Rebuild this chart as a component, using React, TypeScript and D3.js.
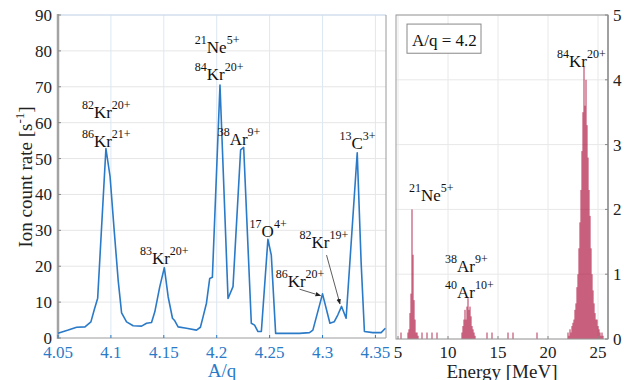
import React from "react";
import { scaleLinear, line, range } from "d3";

// A/q scan (left panel)
const aqValues = [
  4.05, 4.0597, 4.0676, 4.0755, 4.0811, 4.0842, 4.0875, 4.0953, 4.0992, 4.1031,
  4.1069, 4.1101, 4.1148, 4.121, 4.129, 4.1337, 4.1384, 4.1415, 4.1462, 4.1505,
  4.1541, 4.1582, 4.1604, 4.1635, 4.1714, 4.1809, 4.1846, 4.1871, 4.1903, 4.1934,
  4.1959, 4.2031, 4.2107, 4.2154, 4.2226, 4.2255, 4.2327, 4.2358, 4.239, 4.2422,
  4.2484, 4.2516, 4.2557, 4.2783, 4.2877, 4.2909, 4.3, 4.307, 4.311, 4.3144,
  4.318, 4.3223, 4.3328, 4.3365, 4.3396, 4.3475, 4.3554, 4.3594,
];
const rateValues = [
  1.3, 2.2, 3.0, 3.1, 4.5, 7.8, 11.1, 52.8, 45.0, 30.0,
  16.0, 7.0, 4.5, 3.4, 3.3, 4.1, 4.3, 7.3, 14.3, 19.6,
  11.5, 5.5, 4.8, 3.1, 2.7, 2.2, 3.0, 5.9, 9.7, 16.6,
  16.9, 70.5, 11.0, 14.3, 52.4, 53.1, 4.1, 3.6, 1.8, 1.8,
  27.5, 23.1, 1.3, 1.3, 1.5, 2.2, 12.3, 4.1, 4.5, 6.4,
  8.8, 5.5, 51.6, 21.0, 1.8, 1.5, 1.5, 2.7,
];
const aqTicks = [4.05, 4.1, 4.15, 4.2, 4.25, 4.3, 4.35];
const aqTickLabels = ["4.05", "4.1", "4.15", "4.2", "4.25", "4.3", "4.35"];
const rateTicks = [0, 10, 20, 30, 40, 50, 60, 70, 80, 90];

// energy histogram for A/q = 4.2 (right panel), bin centres in MeV
const energyBins = [
  5.3,
  6.0, 6.1, 6.2, 6.3, 6.4, 6.5, 6.6, 6.7, 6.8, 6.9, 7.0,
  7.4, 7.9, 8.4, 8.9,
  11.4, 11.5, 11.6, 11.7, 11.8, 11.9, 12.0, 12.1, 12.2, 12.3, 12.4, 12.5, 12.6, 12.7,
  13.9, 14.4, 16.0, 16.5, 18.9,
  22.0, 22.1, 22.2, 22.3, 22.4, 22.5, 22.6, 22.7, 22.8, 22.9,
  23.0, 23.1, 23.2, 23.3, 23.4, 23.5, 23.6, 23.7, 23.8, 23.9,
  24.0, 24.1, 24.2, 24.3, 24.4, 24.5, 24.6, 24.7, 24.8, 24.9,
  25.0, 25.1, 25.2, 25.3, 25.4, 25.5,
];
const energyCounts = [
  0.1,
  0.1, 0.15, 0.4, 0.7, 2.0, 1.3, 0.6, 0.3, 0.1, 0.1, 0.05,
  0.1, 0.1, 0.1, 0.1,
  0.1, 0.2, 0.3, 0.45, 0.3, 0.5, 0.63, 0.45, 0.5, 0.35, 0.2, 0.15, 0.1, 0.05,
  0.1, 0.1, 0.1, 0.1, 0.1,
  0.1, 0.05, 0.15, 0.1, 0.2, 0.25, 0.3, 0.45, 0.55, 0.8,
  1.0, 1.4, 1.8, 2.3, 2.9, 3.5, 4.2, 3.6, 4.0, 3.3,
  2.8, 2.3, 1.9, 1.4, 1.0, 0.75, 0.55, 0.4, 0.3, 0.3,
  0.2, 0.15, 0.1, 0.05, 0.1, 0.05,
];
const energyTicks = [5, 10, 15, 20, 25];
const countTicks = [0, 1, 2, 3, 4, 5];

// ion labels: [x, y, mass, element, charge]
const leftLabels = [
  [4.0726, 61.3, "82", "Kr", "20+"],
  [4.0726, 53.3, "86", "Kr", "21+"],
  [4.1793, 79.3, "21", "Ne", "5+"],
  [4.1793, 71.9, "84", "Kr", "20+"],
  [4.1274, 20.6, "83", "Kr", "20+"],
  [4.2009, 53.8, "38", "Ar", "9+"],
  [4.2311, 28.2, "17", "O", "4+"],
  [4.2557, 14.3, "86", "Kr", "20+"],
  [4.2783, 25.0, "82", "Kr", "19+"],
  [4.316, 52.8, "13", "C", "3+"],
];
// arrows: [fromX, fromY, toX, toY]
const leftArrows = [
  [4.2783, 13.6, 4.2981, 11.8],
  [4.3038, 23.1, 4.3165, 9.5],
];
const rightLabels = [
  [20.9, 4.2, "84", "Kr", "20+"],
  [6.1, 2.13, "21", "Ne", "5+"],
  [9.7, 1.04, "38", "Ar", "9+"],
  [9.7, 0.63, "40", "Ar", "10+"],
];

const serif = "'Liberation Serif', 'Times New Roman', serif";
const blue = "#2a7ac8";

const IonLabel = ({ x, y, mass, el, charge }) => (
  <text x={x} y={y} fontFamily={serif} fontSize={17} fill="#111">
    <tspan fontSize={12} dy={-9}>{mass}</tspan>
    <tspan dy={9}>{el}</tspan>
    <tspan fontSize={12} dy={-9}>{charge}</tspan>
  </text>
);

export default function App() {
  const W = 624;
  const H = 380;

  const xL = scaleLinear().domain([4.05, 4.36]).range([58, 386]);
  const yL = scaleLinear().domain([0, 90]).range([338, 15]);
  const xR = scaleLinear().domain([4.8, 26]).range([396, 608]);
  const yR = scaleLinear().domain([0, 5]).range([339, 15]);

  const path = line<number>()
    .x((_, i) => xL(aqValues[i]))
    .y((d) => yL(d))(rateValues);

  const [l0, l1] = xL.range();
  const [b0, t0] = yL.range();
  const [r0, r1] = xR.range();
  const [b1, t1] = yR.range();

  return (
    <svg
      width={W}
      height={H}
      style={{ position: "absolute", left: 0, top: 0, background: "#fff" }}
    >
      <defs>
        <marker id="arr" viewBox="0 0 10 10" refX="9" refY="5" markerWidth="7" markerHeight="7" orient="auto">
          <path d="M0,1 L10,5 L0,9 z" fill="#222" />
        </marker>
      </defs>

      {/* left panel grid */}
      {rateTicks.map((t) => (
        <line key={"gy" + t} x1={l0} x2={l1} y1={yL(t)} y2={yL(t)} stroke="#e6e6e6" />
      ))}
      {aqTicks.map((t) => (
        <line key={"gx" + t} x1={xL(t)} x2={xL(t)} y1={b0} y2={t0} stroke="#dce8f4" />
      ))}
      <line x1={l0} x2={l1} y1={t0} y2={t0} stroke="#c8daef" />
      <line x1={l1} x2={l1} y1={t0} y2={b0} stroke="#9a9a9a" />
      <line x1={l0} x2={l1} y1={b0} y2={b0} stroke="#a8a8a8" />
      <line x1={l0} x2={l0} y1={t0 - 1} y2={b0 + 1} stroke="#a3a3a3" strokeWidth={2.5} />

      {rateTicks.map((t) => (
        <g key={"ty" + t}>
          <line x1={l0} x2={l0 + 3} y1={yL(t)} y2={yL(t)} stroke="#888" />
          <text x={l0 - 6} y={yL(t)} dy="0.35em" textAnchor="end" fontFamily={serif} fontSize={17} fill="#222">
            {t}
          </text>
        </g>
      ))}
      {aqTicks.map((t, i) => (
        <g key={"tx" + t}>
          <line x1={xL(t)} x2={xL(t)} y1={b0} y2={b0 - 3} stroke={blue} />
          <text x={xL(t)} y={358} textAnchor="middle" fontFamily={serif} fontSize={17} fill={blue}>
            {aqTickLabels[i]}
          </text>
        </g>
      ))}

      <path d={path} fill="none" stroke={blue} strokeWidth={1.6} strokeLinejoin="round" />

      {leftLabels.map((d, i) => (
        <IonLabel key={"ll" + i} x={xL(d[0])} y={yL(d[1])} mass={d[2]} el={d[3]} charge={d[4]} />
      ))}
      {leftArrows.map((d, i) => (
        <line
          key={"ar" + i}
          x1={xL(d[0])}
          y1={yL(d[1])}
          x2={xL(d[2])}
          y2={yL(d[3])}
          stroke="#333"
          strokeWidth={0.8}
          markerEnd="url(#arr)"
        />
      ))}

      <text x={222} y={377} textAnchor="middle" fontFamily={serif} fontSize={19} fill={blue}>
        A/q
      </text>
      <text transform="translate(32,177) rotate(-90)" textAnchor="middle" fontFamily={serif} fontSize={19} fill="#222">
        Ion count rate [s
        <tspan fontSize={13} dy={-8}>-1</tspan>
        <tspan dy={8}>]</tspan>
      </text>

      {/* right panel */}
      {countTicks.map((t) => (
        <line key={"rgy" + t} x1={r0} x2={r1} y1={yR(t)} y2={yR(t)} stroke="#e8e8e8" />
      ))}
      {energyTicks.map((t) => (
        <line key={"rgx" + t} x1={xR(t)} x2={xR(t)} y1={b1} y2={t1} stroke="#e8e8e8" />
      ))}

      {energyBins.map((e, i) => (
        <rect
          key={"b" + i}
          x={xR(e - 0.06)}
          y={yR(energyCounts[i])}
          width={xR(e + 0.06) - xR(e - 0.06)}
          height={yR(0) - yR(energyCounts[i])}
          fill="#b01c45"
          fillOpacity={0.75}
        />
      ))}

      <rect x={r0} y={t1} width={r1 - r0} height={b1 - t1} fill="none" stroke="#9a9a9a" />
      <line x1={r1} x2={r1} y1={t1} y2={b1} stroke="#a0a0a0" strokeWidth={2} />

      {countTicks.map((t) => (
        <g key={"rty" + t}>
          <line x1={r1} x2={r1 - 3} y1={yR(t)} y2={yR(t)} stroke="#888" />
          <text x={r1 + 5} y={yR(t)} dy="0.35em" fontFamily={serif} fontSize={17} fill="#222">
            {t}
          </text>
        </g>
      ))}
      {energyTicks.map((t) => (
        <g key={"rtx" + t}>
          <line x1={xR(t)} x2={xR(t)} y1={b1} y2={b1 - 3} stroke="#888" />
          <text x={xR(t)} y={358} textAnchor="middle" fontFamily={serif} fontSize={17} fill="#222">
            {t}
          </text>
        </g>
      ))}

      {rightLabels.map((d, i) => (
        <IonLabel key={"rl" + i} x={xR(d[0])} y={yR(d[1])} mass={d[2]} el={d[3]} charge={d[4]} />
      ))}

      <rect x={xR(5.9)} y={yR(4.86)} width={xR(13.3) - xR(5.9)} height={yR(4.41) - yR(4.86)} fill="#fff" stroke="#888" />
      <text x={xR(6.4)} y={yR(4.52)} fontFamily={serif} fontSize={17} fill="#111">
        A/q = 4.2
      </text>

      <text x={502} y={378} textAnchor="middle" fontFamily={serif} fontSize={19} fill="#222">
        Energy [MeV]
      </text>
    </svg>
  );
}
